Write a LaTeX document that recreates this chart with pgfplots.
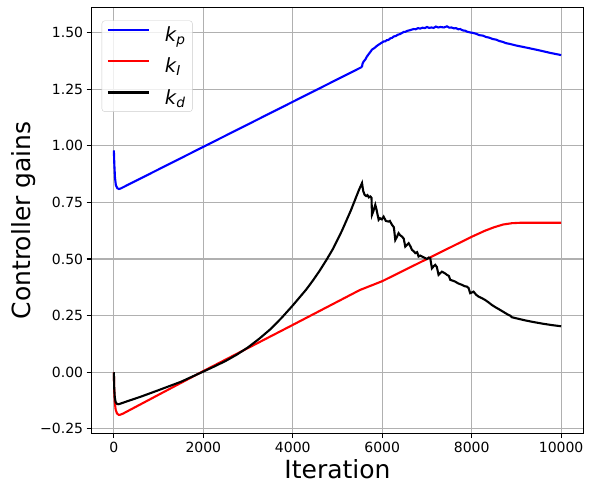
\documentclass[border=0pt]{standalone}
\usepackage{fontspec}
\setmainfont{DejaVu Sans}
\usepackage{pgfplots}
\pgfplotsset{compat=1.18}
\usetikzlibrary{calc}
\definecolor{gridgray}{HTML}{B0B0B0}
\definecolor{legedge}{HTML}{CCCCCC}
\begin{document}
\begin{tikzpicture}
\begin{axis}[
  name=ax,
  width=492pt, height=426pt, scale only axis,
  xmin=-500, xmax=10500, ymin=-0.2695, ymax=1.611,
  scaled x ticks=false, scaled y ticks=false,
  axis line style={black, line width=1.1pt},
  grid=major,
  major grid style={gridgray, line width=1.1pt},
  tick align=outside,
  major tick length=4.9pt,
  every tick/.style={black, line width=1.1pt},
  xtick pos=left, ytick pos=left,
  xtick={0,2000,4000,6000,8000,10000},
  xticklabels={0,2000,4000,6000,8000,10000},
  ytick={-0.25,0,0.25,0.5,0.75,1,1.25,1.5},
  yticklabels={−0.25,0.00,0.25,0.50,0.75,1.00,1.25,1.50},
  ticklabel style={font=\fontsize{14}{16}\selectfont},
  xlabel={Iteration},
  ylabel={Controller gains},
  label style={font=\fontsize{25}{28}\selectfont},
  xlabel style={at={(axis description cs:0.5,0)}, anchor=base, yshift=-45pt},
  ylabel style={at={(axis description cs:-0.139,0.5)}, anchor=center},
  legend cell align=left,
  legend image code/.code={\draw[#1] (0pt,5pt) -- (41pt,5pt);},
  legend style={at={(axis description cs:0.0207,0.969)}, anchor=north west,
    draw=legedge, rounded corners=3pt, fill=white, fill opacity=0.8, text opacity=1,
    font=\fontsize{19.5}{22}\selectfont, inner xsep=5pt, inner ysep=4pt,
    row sep=11pt, column sep=13pt, nodes={inner sep=2pt}},
]
\addplot[blue, line width=2.1pt] coordinates {
(0,0.979)(10,0.92)(25,0.86)(45,0.825)(80,0.812)(112,0.809)(150,0.811)(2000,0.995)(5530,1.346)
(5548,1.350)(5560,1.362)(5585,1.372)(5620,1.380)(5659,1.394)(5700,1.405)(5771,1.424)(5830,1.432)
(5883,1.441)(5950,1.450)(6031,1.460)(6070,1.461)(6100,1.466)(6140,1.467)(6180,1.474)(6220,1.476)(6254,1.482)
(6300,1.484)(6350,1.490)(6400,1.493)(6478,1.502)(6520,1.503)(6560,1.507)(6620,1.510)(6701,1.515)(6750,1.514)
(6800,1.519)(6850,1.517)(6900,1.521)(6950,1.519)(7000,1.524)(7050,1.520)(7100,1.522)(7150,1.520)(7200,1.526)
(7250,1.522)(7300,1.524)(7380,1.522)(7447,1.527)(7500,1.521)(7550,1.522)(7600,1.518)(7650,1.519)(7700,1.514)
(7744,1.515)(7800,1.509)(7850,1.508)(7900,1.503)(7967,1.500)(8030,1.498)(8100,1.494)(8170,1.488)(8250,1.486)
(8320,1.480)(8393,1.477)(8470,1.471)(8550,1.468)(8620,1.462)(8700,1.458)(8760,1.453)(8839,1.450)(9000,1.442)
(9250,1.432)(9509,1.421)(9750,1.410)(10000,1.400)
};
\addlegendentry{\itshape k\textsubscript{\itshape p}}
\addplot[red, line width=2.1pt] coordinates {
(0,0)(8,-0.08)(20,-0.13)(40,-0.165)(70,-0.182)(110,-0.188)(134,-0.188)(200,-0.183)(1950,0.0)
(4000,0.209)(5500,0.363)(6000,0.402)(7000,0.500)(8000,0.598)(8300,0.625)(8500,0.640)(8700,0.652)
(8900,0.658)(9100,0.660)(10000,0.660)
};
\addlegendentry{\itshape k\textsubscript{\itshape I}}
\addplot[black, line width=2.1pt] coordinates {
(0,0)(8,-0.07)(20,-0.11)(40,-0.132)(70,-0.14)(110,-0.141)(300,-0.128)(600,-0.108)(1000,-0.079)
(1500,-0.042)(2000,0.003)(2250,0.026)(2500,0.050)(2750,0.078)(3000,0.110)(3250,0.148)(3500,0.190)
(3750,0.240)(4000,0.295)(4150,0.330)(4300,0.365)(4450,0.405)(4600,0.448)(4750,0.495)(4900,0.545)
(5000,0.585)(5100,0.625)(5200,0.670)(5300,0.715)(5400,0.765)(5480,0.805)(5548,0.835)(5575,0.80)(5607,0.783)
(5640,0.778)(5670,0.782)(5700,0.772)(5734,0.776)(5760,0.770)(5771,0.695)(5800,0.71)(5845,0.739)
(5870,0.72)(5920,0.673)(5950,0.68)(5990,0.675)(6031,0.687)(6080,0.668)(6143,0.665)(6170,0.668)
(6218,0.651)(6260,0.64)(6292,0.584)(6330,0.598)(6366,0.614)(6400,0.605)(6441,0.599)(6480,0.590)
(6515,0.555)(6550,0.562)(6590,0.570)(6630,0.556)(6665,0.540)(6700,0.535)(6739,0.526)(6780,0.53)
(6813,0.511)(6850,0.515)(6888,0.511)(6950,0.505)(7000,0.500)(7040,0.506)(7074,0.503)(7111,0.459)
(7150,0.468)(7185,0.474)(7220,0.465)(7260,0.430)(7300,0.438)(7335,0.444)(7400,0.437)(7447,0.430)
(7490,0.425)(7521,0.408)(7580,0.404)(7632,0.400)(7700,0.392)(7782,0.386)(7840,0.380)(7894,0.378)
(7930,0.372)(7967,0.349)(8000,0.352)(8041,0.356)(8100,0.342)(8153,0.334)(8230,0.327)(8302,0.319)
(8380,0.308)(8452,0.297)(8540,0.286)(8637,0.275)(8730,0.264)(8823,0.253)(8860,0.250)(8898,0.243)
(9000,0.238)(9196,0.229)(9400,0.221)(9600,0.214)(9800,0.208)(10000,0.203)
};
\addlegendentry{\itshape k\textsubscript{\itshape d}}
\end{axis}
\pgfresetboundingbox
\path[use as bounding box] ($(ax.south west)+(-91.5pt,-49.7pt)$) rectangle ($(ax.north east)+(6.5pt,7.3pt)$);
\end{tikzpicture}
\end{document}
